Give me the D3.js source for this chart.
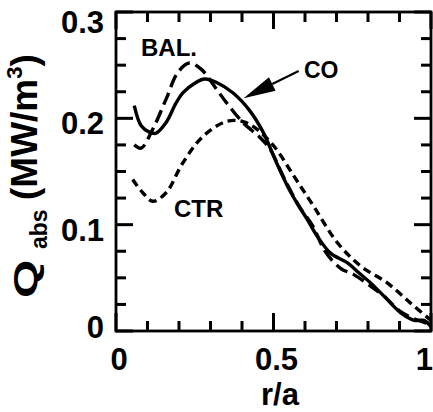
<!DOCTYPE html>
<html><head><meta charset="utf-8">
<script src="https://cdn.jsdelivr.net/npm/d3@7"></script>
<style>
body{margin:0;background:#fff}
svg{display:block}
text{font-family:"Liberation Sans",Arial,Helvetica,sans-serif;font-weight:bold;fill:#000}
</style>
</head><body>
<svg id="c" width="433" height="412"></svg>
<script>
// ---- data ----
const rCO  = [0.058,0.080,0.106,0.127,0.159,0.190,0.212,0.250,0.281,0.318,0.371,0.425,0.467,0.510,0.550,0.575,0.607,0.639,0.682,0.735,0.770,0.809,0.850,0.904,0.947,0.978,1.000];
const qCO  = [0.212,0.193,0.187,0.186,0.196,0.214,0.224,0.233,0.237,0.234,0.224,0.207,0.187,0.158,0.133,0.120,0.105,0.089,0.073,0.064,0.055,0.045,0.033,0.017,0.010,0.010,0.004];
const rBAL = [0.058,0.080,0.117,0.159,0.196,0.233,0.271,0.313,0.350,0.403,0.457,0.489,0.530,0.580,0.624,0.666,0.713,0.755,0.800,0.850,0.900,0.950,0.990];
const qBAL = [0.175,0.172,0.190,0.218,0.243,0.252,0.246,0.230,0.215,0.196,0.182,0.171,0.146,0.118,0.099,0.074,0.059,0.053,0.044,0.033,0.019,0.011,0.007];
const rCTR = [0.053,0.085,0.117,0.159,0.212,0.276,0.350,0.403,0.446,0.501,0.565,0.628,0.703,0.777,0.862,0.936,1.000];
const qCTR = [0.1425,0.130,0.122,0.130,0.158,0.183,0.197,0.197,0.190,0.174,0.1456,0.117,0.083,0.061,0.045,0.026,0.010];
const seriesNames = ["CO","BAL.","CTR"];

const xMajorTicks = [0,0.5,1];
const xTickLabels = ["0","0.5","1"];
const xMinorTicks = [0.1,0.2,0.3,0.4,0.6,0.7,0.8,0.9];
const yMajorTicks = [0,0.1,0.2,0.3];
const yTickLabels = ["0","0.1","0.2","0.3"];
const yMinorTicks = [0.025,0.05,0.075,0.125,0.15,0.175,0.225,0.25,0.275];

// ---- layout ----
const L=116, R=431, T=12, B=331;
const xs = d3.scaleLinear().domain([0,1]).range([L,R]);
const ys = d3.scaleLinear().domain([0,0.3]).range([B,T]);
const svg = d3.select("#c");

// frame
svg.append("rect").attr("x",L).attr("y",T).attr("width",R-L).attr("height",B-T)
  .attr("fill","none").attr("stroke","#000").attr("stroke-width",2.8);

// ticks (inward, all four sides) as filled rectangles
const tw = 3;
const tickRects = [];
xMinorTicks.forEach(v=>tickRects.push({x:xs(v)-tw/2, y:B-10, w:tw, h:10}, {x:xs(v)-tw/2, y:T, w:tw, h:10}));
xMajorTicks.forEach(v=>tickRects.push({x:xs(v)-tw/2, y:B-18, w:tw, h:18}, {x:xs(v)-tw/2, y:T, w:tw, h:17}));
yMinorTicks.forEach(v=>tickRects.push({x:L, y:ys(v)-tw/2, w:10, h:tw}, {x:R-10, y:ys(v)-tw/2, w:10, h:tw}));
yMajorTicks.forEach(v=>tickRects.push({x:L, y:ys(v)-tw/2, w:17, h:tw}, {x:R-17, y:ys(v)-tw/2, w:17, h:tw}));
svg.append("g").attr("id","ticks").selectAll("rect").data(tickRects).join("rect")
  .attr("x",d=>d.x).attr("y",d=>d.y).attr("width",d=>d.w).attr("height",d=>d.h)
  .style("fill","#000").style("stroke","none");

// curves
const lineGen = d3.line().x(d=>xs(d[0])).y(d=>ys(d[1])).curve(d3.curveCatmullRom.alpha(0.5));
const series = [
  {r:rCO, q:qCO, dash:null},
  {r:rBAL, q:qBAL, dash:"13,6"},
  {r:rCTR, q:qCTR, dash:"8,5"}
];
series.forEach(s=>{
  svg.append("path").attr("d", lineGen(d3.zip(s.r,s.q)))
    .attr("fill","none").attr("stroke","#000").attr("stroke-width",3.4)
    .attr("stroke-dasharray", s.dash).attr("stroke-linejoin","round");
});

// tick labels
const yOff = [7,16,16,21];
yMajorTicks.forEach((v,i)=>{
  svg.append("text").attr("x",104).attr("y",ys(v)+yOff[i]).attr("text-anchor","end")
    .attr("font-size",31).text(yTickLabels[i]);
});
xMajorTicks.forEach((v,i)=>{
  const last = i===xMajorTicks.length-1;
  svg.append("text").attr("x", last ? xs(v)+2 : xs(v)+3).attr("y",370)
    .attr("text-anchor", last ? "end" : "middle").attr("font-size",31).text(xTickLabels[i]);
});

// axis titles
svg.append("text").attr("x",280).attr("y",405).attr("text-anchor","middle").attr("font-size",31).text("r/a");
svg.append("text").attr("transform","translate(37,298) rotate(-90) scale(1.45,1)").attr("font-size",34).text("Q");
svg.append("text").attr("transform","translate(47,249) rotate(-90)").attr("font-size",23).text("abs");
const yt = svg.append("text").attr("transform","translate(37,200) rotate(-90)").attr("font-size",37);
yt.append("tspan").text("(MW/m");
yt.append("tspan").attr("font-size",22).attr("dy",-15).text("3");
yt.append("tspan").attr("dy",15).text(")");

// series labels
svg.append("text").attr("x",141).attr("y",56).attr("font-size",24).text(seriesNames[1]);
svg.append("text").attr("x",304).attr("y",78).attr("font-size",23).text(seriesNames[0]);
svg.append("text").attr("x",174).attr("y",217).attr("font-size",24).text(seriesNames[2]);

// arrow pointing at CO curve
const aStart=[xs(0.580), ys(0.2445)], aTip=[xs(0.405), ys(0.219)];
const ddx=aTip[0]-aStart[0], ddy=aTip[1]-aStart[1], alen=Math.hypot(ddx,ddy);
const ux=ddx/alen, uy=ddy/alen, nx=-uy, ny=ux, hl=32, hw=7.5;
const base=[aTip[0]-ux*hl, aTip[1]-uy*hl];
svg.append("path").attr("d",`M${aStart[0]},${aStart[1]}L${base[0]},${base[1]}`)
  .attr("stroke","#000").attr("stroke-width",2.2).attr("fill","none");
svg.append("path").attr("d",`M${aTip[0]},${aTip[1]}L${base[0]+nx*hw},${base[1]+ny*hw}L${base[0]-nx*hw},${base[1]-ny*hw}Z`)
  .attr("fill","#000");
</script>
</body></html>
